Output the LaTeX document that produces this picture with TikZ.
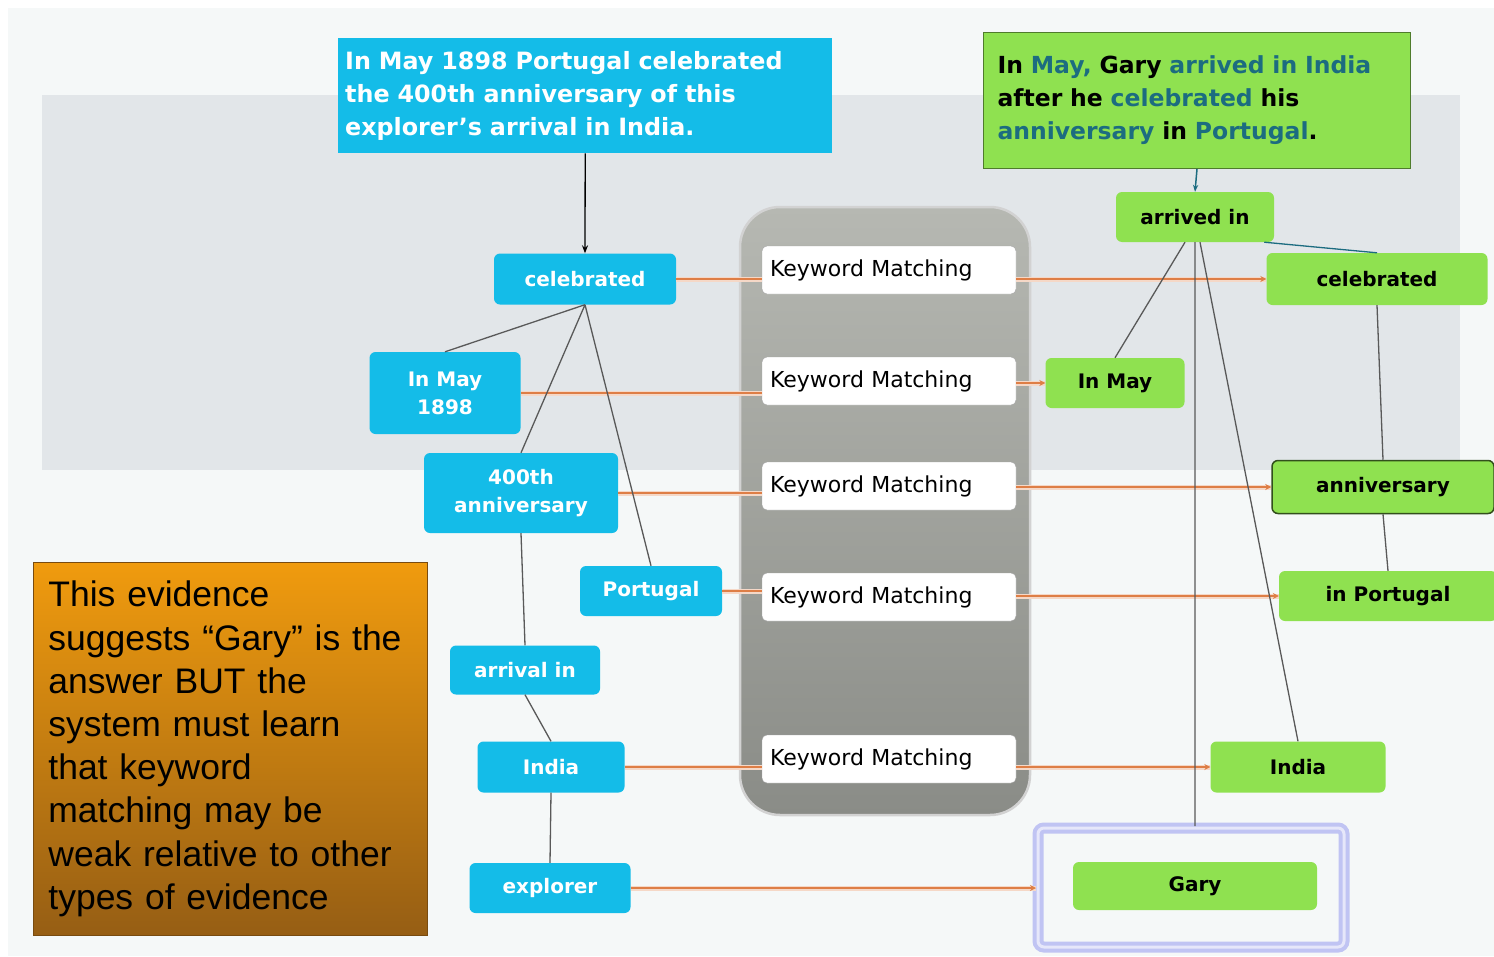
\documentclass[tikz,border=0pt]{standalone}
\usepackage{fontspec}
\setmainfont{DejaVu Sans}
\newfontfamily\notefont{Liberation Sans}
\usetikzlibrary{arrows.meta}
\definecolor{sky}{RGB}{20,188,232}
\definecolor{leaf}{RGB}{143,225,80}
\definecolor{rust}{RGB}{222,126,70}
\definecolor{deepteal}{RGB}{28,108,128}
\definecolor{band}{RGB}{226,230,233}
\definecolor{paper}{RGB}{245,248,248}
\definecolor{lilac}{RGB}{192,196,243}
\definecolor{amber}{RGB}{240,155,14}
\definecolor{umber}{RGB}{150,94,20}
\definecolor{stonetop}{RGB}{182,184,178}
\definecolor{stonebot}{RGB}{138,140,135}
\begin{document}
\begin{tikzpicture}[x=1pt,y=-1pt,
	bl/.style={fill=sky,rounded corners=6pt,text=white,align=center,inner sep=0pt,font=\bfseries\fontsize{20}{28}\selectfont},
	gr/.style={fill=leaf,rounded corners=6pt,align=center,inner sep=0pt,font=\bfseries\fontsize{20}{28}\selectfont},
	kw/.style={fill=white,draw=gray!70,rounded corners=5pt,minimum width=254pt,minimum height=48pt,inner xsep=8pt,text width=238pt,align=left,font=\fontsize{22}{25}\selectfont},
	link/.style={draw=rust,line width=2pt,preaction={draw=rust!30,line width=5pt,-},-{Stealth[length=6pt,width=6pt]}},
	tie/.style={draw=black!65,line width=1.3pt}]
			\def\kx{889} % tâm các ô Keyword Matching
			\fill[white] (0,0) rectangle (1494,956);
			\fill[paper] (8,8) rectangle (1494,956);
			\fill[band] (42,95) rectangle (1460,470);
			\useasboundingbox (0,0) rectangle (1494,956);
			% hai câu
			\node[fill=sky,text=white,anchor=north west,minimum width=494pt,minimum height=115pt,text width=480pt,inner xsep=7pt,inner ysep=0pt,align=left,font=\bfseries\fontsize{23.8}{33}\selectfont] (P) at (338,38)
			{In May 1898 Portugal celebrated\\the 400th anniversary of this\\explorer's arrival in India.};
			\node[fill=leaf,draw=leaf!55!black,line width=1pt,anchor=north west,minimum width=427pt,minimum height=136pt,text width=399pt,inner xsep=14pt,inner ysep=0pt,align=left,font=\bfseries\fontsize{23.5}{33}\selectfont] (Q) at (983,32)
			{In {\color{deepteal}May,} Gary {\color{deepteal}arrived in India}\\after he {\color{deepteal}celebrated} his\\{\color{deepteal}anniversary} in {\color{deepteal}Portugal}.};
			\node[top color=amber,bottom color=umber,draw=umber!80!black,line width=.8pt,anchor=north west,minimum width=394pt,minimum height=373pt,text width=374pt,inner xsep=10pt,inner ysep=0pt,align=left,font=\notefont\fontsize{35.5}{43.2}\selectfont] (N) at (33,562)
			{\hspace*{5pt}This evidence\\\hspace*{5pt}suggests “Gary” is the\\\hspace*{5pt}answer BUT the\\\hspace*{5pt}system must learn\\\hspace*{5pt}that keyword\\\hspace*{5pt}matching may be\\\hspace*{5pt}weak relative to other\\\hspace*{5pt}types of evidence};
			% khung giữa
			\draw[draw=gray!35,line width=2.5pt,top color=stonetop,bottom color=stonebot,rounded corners=40pt] (740,207) rectangle (1030,815);
			\foreach \y[count=\i] in {270,381,486,597,759}
			\node[kw] (K\i) at (\kx,\y) {Keyword Matching};
			% bên trái
			\node[bl,minimum width=182pt,minimum height=51pt] (L1) at (585,279) {celebrated};
			\node[bl,minimum width=151pt,minimum height=82pt] (L2) at (445,393) {In May\\1898};
			\node[bl,minimum width=194pt,minimum height=80pt] (L3) at (521,493) {400th\\anniversary};
			\node[bl,minimum width=142pt,minimum height=50pt] (L4) at (651,591) {Portugal};
			\node[bl,minimum width=150pt,minimum height=49pt] (L5) at (525,670) {arrival in};
			\node[bl,minimum width=147pt,minimum height=51pt] (L6) at (551,767) {India};
			\node[bl,minimum width=161pt,minimum height=50pt] (L7) at (550,888) {explorer};
			% bên phải
			\node[gr,minimum width=158pt,minimum height=50pt] (R1) at (1195,217) {arrived in};
			\node[gr,minimum width=221pt,minimum height=52pt] (R2) at (1377,279) {celebrated};
			\node[gr,minimum width=139pt,minimum height=50pt] (R3) at (1115,383) {In May};
			\node[gr,draw=leaf!35!black,line width=1.5pt,minimum width=222pt,minimum height=53pt] (R4) at (1383,487) {anniversary};
			\node[gr,minimum width=218pt,minimum height=50pt] (R5) at (1388,596) {in Portugal};
			\node[gr,minimum width=175pt,minimum height=51pt] (R6) at (1298,767) {India};
			\node[fill=paper,draw=lilac,line width=4pt,double=lilac!40,double distance=3pt,rounded corners=6pt,minimum width=306pt,minimum height=119pt] (F) at (1191,887.5) {};
			\node[gr,minimum width=244pt,minimum height=48pt] (R7) at (1195,886) {Gary};
			% nối
			\foreach \k/\a/\b in {1/L1/R2,2/L2/R3,3/L3/R4,4/L4/R5,5/L6/R6}
			\draw[link] (K\k.west |- \a) -- (\a.east)
			(K\k.east |- \b) -- (\b.west);
			\draw[link] (L7.east) -- (F.west |- L7);
			\draw[tie]
			(L1.south) -- (L2.north)
			(L1.south) -- (L3.north)
			(L1.south) -- (L4.north)
			(L3.south) -- (L5.north)
			(L5.south) -- (L6.north)
			(L6.south) -- (L7.north)
			([xshift=-10pt]R1.south) -- (R3.north)
			(R1.south) -- (R1.south |- F.north)
			([xshift=5pt]R1.south) -- (R6.north)
			(R2.south) -- (R4.north)
			(R4.south) -- (R5.north);
			\draw[tie,draw=deepteal] (R1.-20) -- (R2.north);
			\draw[line width=1.3pt,-{Stealth[length=8pt]}] (P.south) -- (L1.north);
			\draw[line width=1.5pt,draw=deepteal,-{Stealth[length=7pt]}] (Q.south) -- (R1.north);
	\end{tikzpicture}
\end{document}
